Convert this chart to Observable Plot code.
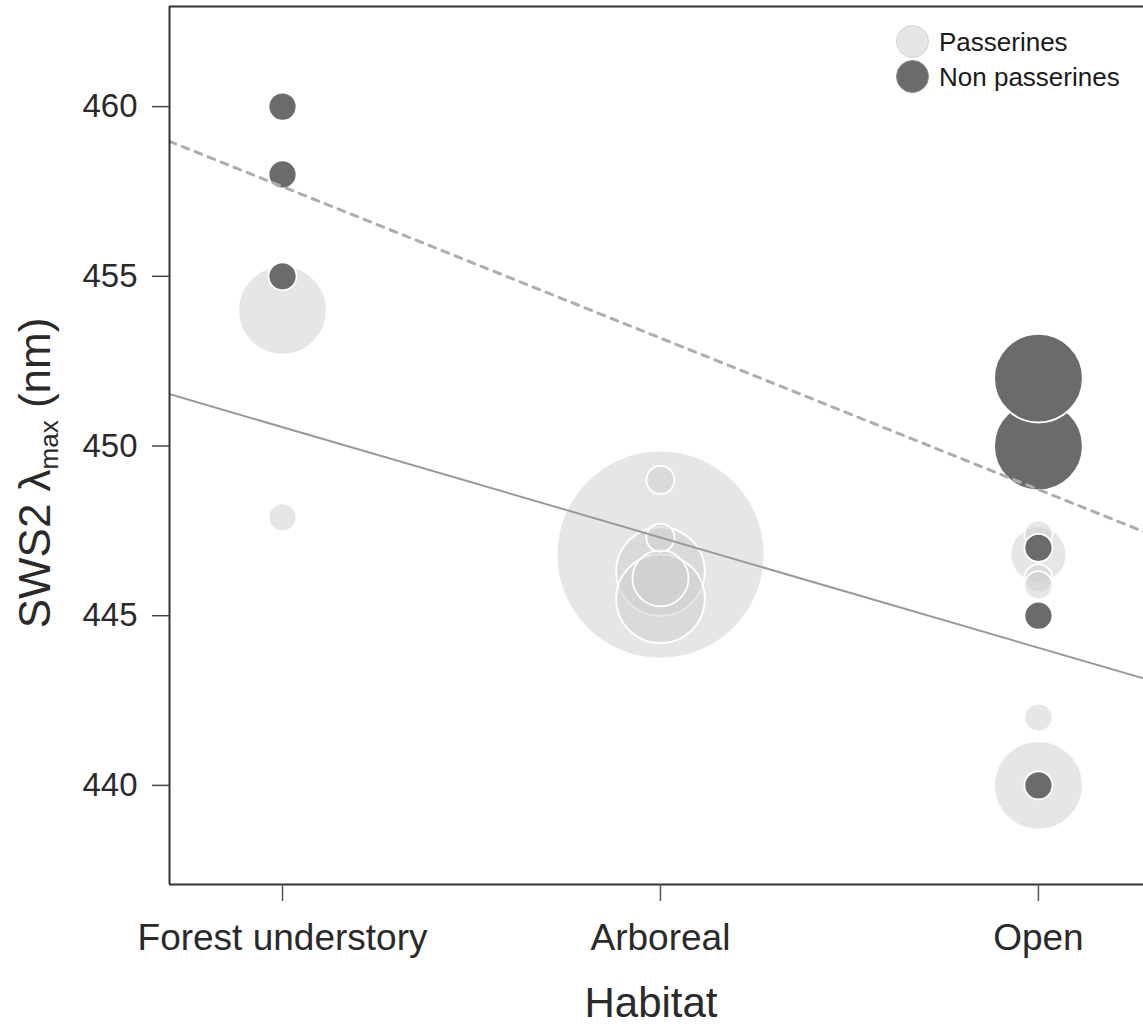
<!DOCTYPE html>
<html>
<head>
<meta charset="utf-8">
<script src="https://cdn.jsdelivr.net/npm/d3@7"></script>
<script src="https://cdn.jsdelivr.net/npm/@observablehq/plot@0.6"></script>
<style>
  html, body { margin: 0; padding: 0; background: #fff; }
  #wrap { position: relative; width: 1143px; height: 1027px; overflow: hidden; font-family: "Liberation Sans", Arial, sans-serif; }
  #legend { position: absolute; left: 896px; top: 24px; font-size: 26px; color: #1a1a1a; line-height: 34px; }
  #legend .row { display: flex; align-items: center; height: 35px; }
  #legend .sw { width: 33px; height: 33px; border-radius: 50%; margin-right: 10px; box-sizing: border-box; }
</style>
</head>
<body>
<div id="wrap"><div id="legend"></div></div>
<script>
// ---- data ----
const categories = ["Forest understory", "Arboreal", "Open"];
const groups = ["Passerines", "Non passerines"];
const groupFill = ["rgba(207,207,207,0.52)", "#6b6b6b"];
const legendFill = ["#e6e6e6", "#6b6b6b"];

// points (draw order) : habitat index, group index, SWS2 lambda max, sample size
const ptHabitat = [0, 0, 0, 0, 0,
                   1, 1, 1, 1, 1, 1,
                   2, 2, 2, 2, 2, 2, 2, 2, 2, 2, 2];
const ptGroup   = [0, 0, 1, 1, 1,
                   0, 0, 0, 0, 0, 0,
                   0, 0, 0, 0, 0, 0, 1, 1, 1, 1, 1];
const ptSws2    = [454.0, 447.9, 460.0, 458.0, 455.0,
                   446.3, 445.5, 446.1, 446.8, 449.0, 447.3,
                   446.8, 447.4, 446.1, 445.9, 442.0, 440.0, 450.0, 452.0, 447.0, 445.0, 440.0];
const ptN       = [10, 1, 1, 1, 1,
                   10, 10, 4, 55, 1, 1,
                   4, 1, 1, 1, 1, 10, 10, 10, 1, 1, 1];

// regression lines (values at habitat positions -0.3 and 2.3)
const fitX = [-0.3, 2.3];
const fitPasserines = [451.53, 443.08];
const fitNonPasserines = [458.98, 447.38];

const yTicks = [440, 445, 450, 455, 460];
const xTicks = [0, 1, 2];
const xDomain = [-0.299, 2.278];
const yDomain = [437.08, 462.95];

// ---- tables ----
const points = ptSws2.map((v, i) => ({
  habitat: ptHabitat[i], group: groups[ptGroup[i]], fill: groupFill[ptGroup[i]],
  sws2: v, n: ptN[i]
}));
const lines = [
  ...fitX.map((x, i) => ({x, y: fitPasserines[i], g: "P"})),
  ...fitX.map((x, i) => ({x, y: fitNonPasserines[i], g: "NP"}))
];

const chart = Plot.plot({
  width: 1143,
  height: 1027,
  marginLeft: 169,
  marginRight: 0,
  marginTop: 6,
  marginBottom: 143,
  style: {fontFamily: "'Liberation Sans', Arial, sans-serif", background: "white", color: "#2a2a2a"},
  x: {domain: xDomain, axis: null},
  y: {domain: yDomain, axis: null},
  r: {type: "sqrt", domain: [0, 55], range: [0, 104]},
  marks: [
    Plot.dot(points, {x: "habitat", y: "sws2", r: "n", fill: "fill", stroke: "white", strokeWidth: 1.8}),
    Plot.line(lines.filter(d => d.g === "P"), {x: "x", y: "y", stroke: "#999", strokeWidth: 2, clip: true}),
    Plot.line(lines.filter(d => d.g === "NP"), {x: "x", y: "y", stroke: "#adadad", strokeWidth: 3, strokeDasharray: "7,7", clip: true}),
    Plot.ruleY(yDomain, {stroke: "#333", strokeWidth: 2}),
    Plot.ruleX([xDomain[0]], {stroke: "#333", strokeWidth: 2}),
    Plot.axisX(xTicks, {tickFormat: i => categories[i], tickSize: 17, tickPadding: 22, fontSize: 37, label: null, stroke: "#555", strokeWidth: 1.5, fill: "#2a2a2a"}),
    Plot.axisY(yTicks, {tickSize: 17, tickPadding: 15, fontSize: 33, label: null, stroke: "#444", strokeWidth: 1.5, fill: "#2a2a2a"})
  ]
});

document.getElementById("wrap").prepend(chart);

// axis titles (with subscript)
const svg = d3.select(chart);
const yl = svg.append("text")
  .attr("transform", "translate(50,473) rotate(-90)")
  .attr("text-anchor", "middle")
  .attr("font-size", 44)
  .attr("fill", "#2a2a2a");
yl.append("tspan").text("SWS2 λ");
yl.append("tspan").text("max").attr("font-size", 26).attr("dy", 8);
yl.append("tspan").text(" (nm)").attr("dy", -8);

svg.append("text")
  .attr("x", 651).attr("y", 1017)
  .attr("text-anchor", "middle")
  .attr("font-size", 42)
  .attr("fill", "#2a2a2a")
  .text("Habitat");

// legend
const legend = d3.select("#legend");
groups.forEach((g, i) => {
  const row = legend.append("div").attr("class", "row");
  row.append("div").attr("class", "sw")
    .style("background", legendFill[i])
    .style("border", i === 0 ? "1.5px solid #d4d4d4" : "1.5px solid #8a8a8a");
  row.append("span").text(g);
});
</script>
</body>
</html>
